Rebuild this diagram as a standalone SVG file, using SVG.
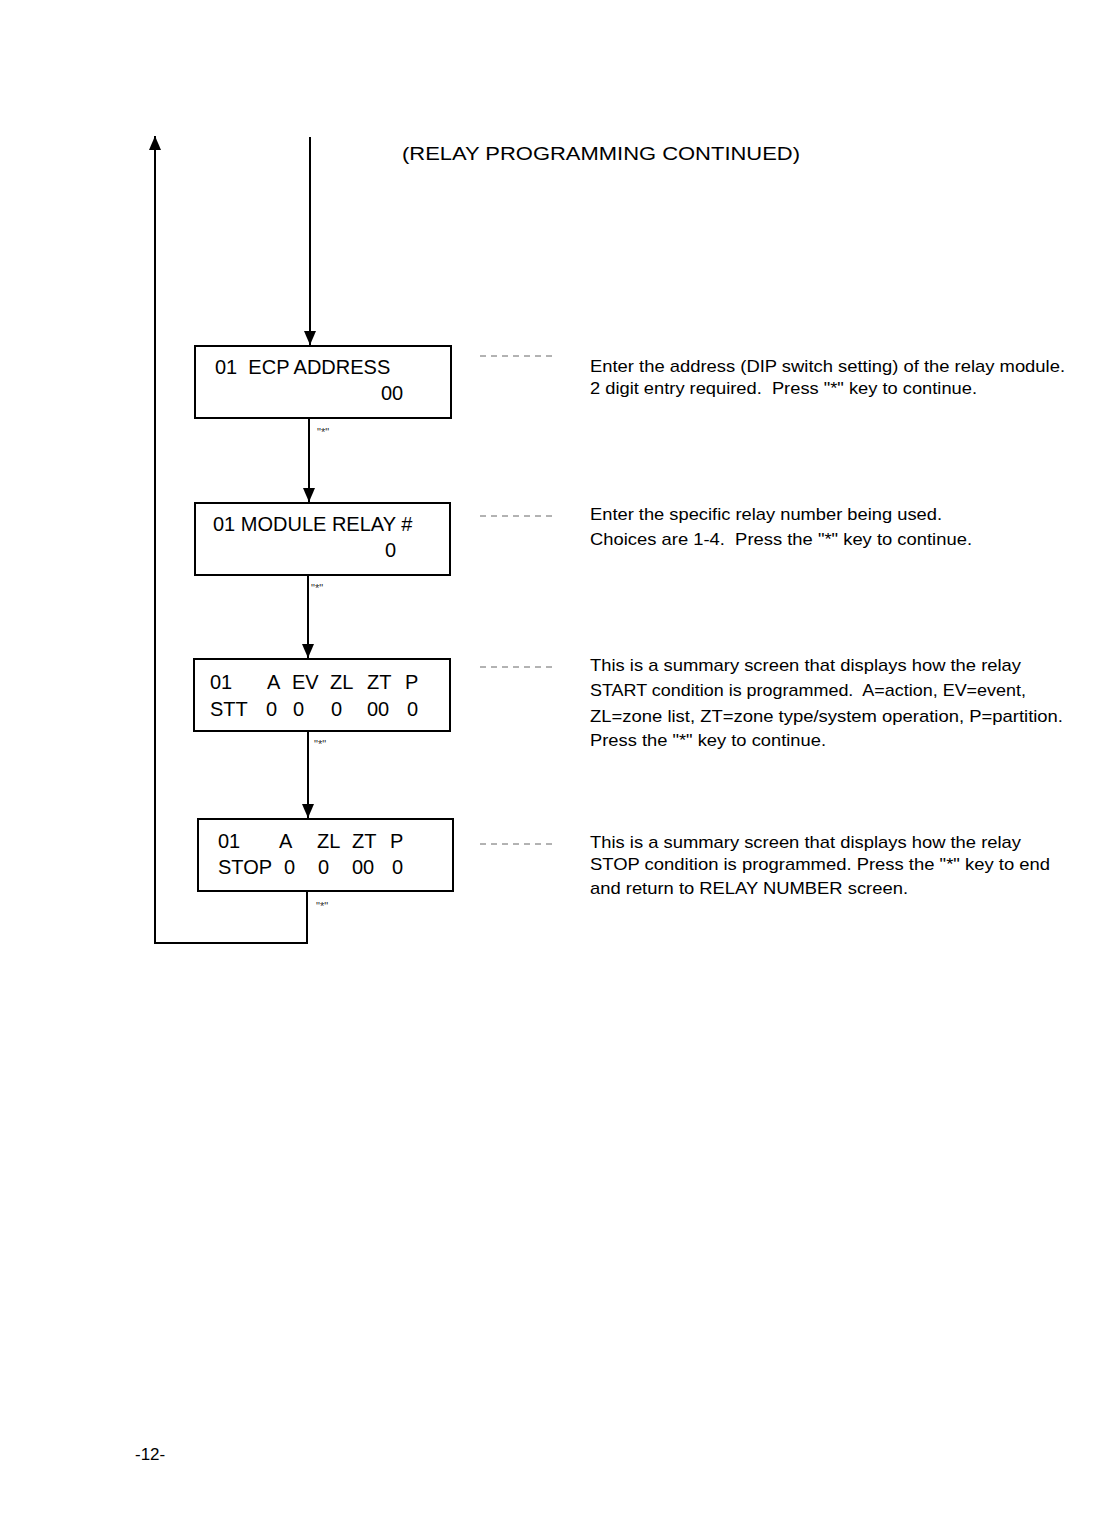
<svg xmlns="http://www.w3.org/2000/svg" width="1120" height="1526" viewBox="0 0 1120 1526">
<style>
.bx{fill:#fff;stroke:#000;stroke-width:2}
.ln{fill:none;stroke:#000;stroke-width:2}
.ld{fill:none;stroke:#666;stroke-width:1;stroke-dasharray:6,5}
.t{font-family:"Liberation Sans",Arial,sans-serif;font-size:20px;fill:#000}
.d{font-family:"Liberation Sans",Arial,sans-serif;font-size:17px;fill:#000}
.s{font-family:"Liberation Sans",Arial,sans-serif;font-size:11px;fill:#333}
.h{font-family:"Liberation Sans",Arial,sans-serif;font-size:19px;fill:#000}
</style>
<defs>
<marker id="ah" markerWidth="14" markerHeight="12" refX="14" refY="6" orient="auto" markerUnits="userSpaceOnUse">
<path d="M0,0 L14,6 L0,12 Z" fill="#000"/>
</marker>
</defs>
<text class="h" x="402" y="160" textLength="398" lengthAdjust="spacingAndGlyphs">(RELAY PROGRAMMING CONTINUED)</text>
<g id="connectors">
<line class="ln" x1="310" y1="137" x2="310" y2="345" marker-end="url(#ah)"/>
<line class="ln" x1="309" y1="418" x2="309" y2="502" marker-end="url(#ah)"/>
<line class="ln" x1="308" y1="576" x2="308" y2="658" marker-end="url(#ah)"/>
<line class="ln" x1="308" y1="732" x2="308" y2="818" marker-end="url(#ah)"/>
<polyline class="ln" points="307,892 307,943 155,943 155,136" marker-end="url(#ah)"/>
<text class="s" x="317" y="436">"*"</text>
<text class="s" x="311" y="592">"*"</text>
<text class="s" x="314" y="748">"*"</text>
<text class="s" x="316" y="910">"*"</text>
<line class="ld" x1="480" y1="356" x2="557" y2="356"/>
<line class="ld" x1="480" y1="516" x2="557" y2="516"/>
<line class="ld" x1="480" y1="667" x2="557" y2="667"/>
<line class="ld" x1="480" y1="844" x2="557" y2="844"/>
</g>
<g id="n1">
<rect class="bx" x="195" y="346" width="256" height="72"/>
<text class="t" x="215" y="374" xml:space="preserve">01  ECP ADDRESS</text>
<text class="t" x="381" y="400">00</text>
</g>
<g id="n2">
<rect class="bx" x="195" y="503" width="255" height="72"/>
<text class="t" x="213" y="531">01 MODULE RELAY #</text>
<text class="t" x="385" y="557">0</text>
</g>
<g id="n3">
<rect class="bx" x="194" y="659" width="256" height="72"/>
<text class="t" x="210" y="689">01</text>
<text class="t" x="267" y="689">A</text>
<text class="t" x="292" y="689">EV</text>
<text class="t" x="330" y="689">ZL</text>
<text class="t" x="367" y="689">ZT</text>
<text class="t" x="405" y="689">P</text>
<text class="t" x="210" y="716">STT</text>
<text class="t" x="266" y="716">0</text>
<text class="t" x="293" y="716">0</text>
<text class="t" x="331" y="716">0</text>
<text class="t" x="367" y="716">00</text>
<text class="t" x="407" y="716">0</text>
</g>
<g id="n4">
<rect class="bx" x="198" y="819" width="255" height="72"/>
<text class="t" x="218" y="848">01</text>
<text class="t" x="279" y="848">A</text>
<text class="t" x="317" y="848">ZL</text>
<text class="t" x="352" y="848">ZT</text>
<text class="t" x="390" y="848">P</text>
<text class="t" x="218" y="874">STOP</text>
<text class="t" x="284" y="874">0</text>
<text class="t" x="318" y="874">0</text>
<text class="t" x="352" y="874">00</text>
<text class="t" x="392" y="874">0</text>
</g>
<g id="desc1">
<text class="d" x="590" y="372" textLength="475" lengthAdjust="spacingAndGlyphs">Enter the address (DIP switch setting) of the relay module.</text>
<text class="d" x="590" y="394" textLength="387" lengthAdjust="spacingAndGlyphs" xml:space="preserve">2 digit entry required.  Press "*" key to continue.</text>
</g>
<g id="desc2">
<text class="d" x="590" y="520" textLength="352" lengthAdjust="spacingAndGlyphs">Enter the specific relay number being used.</text>
<text class="d" x="590" y="545" textLength="382" lengthAdjust="spacingAndGlyphs" xml:space="preserve">Choices are 1-4.  Press the "*" key to continue.</text>
</g>
<g id="desc3">
<text class="d" x="590" y="671" textLength="431" lengthAdjust="spacingAndGlyphs">This is a summary screen that displays how the relay</text>
<text class="d" x="590" y="696" textLength="436" lengthAdjust="spacingAndGlyphs" xml:space="preserve">START condition is programmed.  A=action, EV=event,</text>
<text class="d" x="590" y="722" textLength="473" lengthAdjust="spacingAndGlyphs">ZL=zone list, ZT=zone type/system operation, P=partition.</text>
<text class="d" x="590" y="746" textLength="236" lengthAdjust="spacingAndGlyphs">Press the "*" key to continue.</text>
</g>
<g id="desc4">
<text class="d" x="590" y="848" textLength="431" lengthAdjust="spacingAndGlyphs">This is a summary screen that displays how the relay</text>
<text class="d" x="590" y="870" textLength="460" lengthAdjust="spacingAndGlyphs">STOP condition is programmed. Press the "*" key to end</text>
<text class="d" x="590" y="894" textLength="318" lengthAdjust="spacingAndGlyphs">and return to RELAY NUMBER screen.</text>
</g>
<text class="d" x="135" y="1460">-12-</text>
</svg>
